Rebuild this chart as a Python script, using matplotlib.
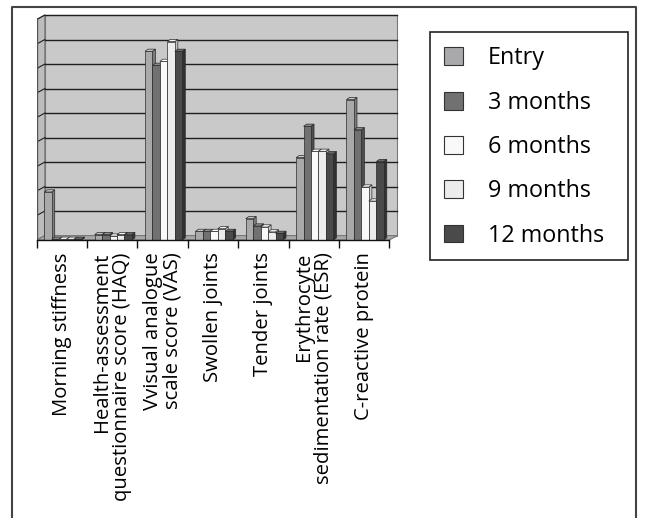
import matplotlib

matplotlib.use("Agg")
import matplotlib.pyplot as plt
from matplotlib.patches import Polygon, Rectangle, Patch
from matplotlib.lines import Line2D

plt.rcParams["font.family"] = ["Open Sans", "DejaVu Sans"]

categories = [
    "Morning stiffness",
    "Health-assessment\nquestionnaire score (HAQ)",
    "Vvisual analogue\nscale score (VAS)",
    "Swollen joints",
    "Tender joints",
    "Erythrocyte\nsedimentation rate (ESR)",
    "C-reactive protein",
]
series = ["Entry", "3 months", "6 months", "9 months", "12 months"]
entry = [1.96, 0.22, 7.70, 0.35, 0.87, 3.36, 5.73]
m3 = [0.03, 0.22, 7.13, 0.35, 0.57, 4.64, 4.50]
m6 = [0.03, 0.16, 7.29, 0.35, 0.53, 3.62, 2.16]
m9 = [0.03, 0.22, 8.10, 0.46, 0.33, 3.62, 1.59]
m12 = [0.03, 0.22, 7.70, 0.35, 0.27, 3.52, 3.20]
values = [entry, m3, m6, m9, m12]

# front / top / side shades per series
FRONT = ["#a9a9ab", "#717171", "#f9f9f9", "#ececec", "#4a4a4a"]
TOP = ["#c4c4c6", "#8c8c8c", "#ffffff", "#f6f6f6", "#686868"]
SIDE = ["#7c7c7e", "#4e4e4e", "#cfcfcf", "#c4c4c4", "#303030"]
WALL = "#c9c9c9"
FLOOR = "#a8a8a8"
EDGE = "#2a2a2a"

N_GRID = 9
WALL_DX, WALL_DY = 0.16, 0.18   # depth of back wall (category units, value units)
BAR_DX, BAR_DY = 0.06, 0.09     # depth of each bar
BAR_OFF, BAR_W = 0.15, 0.148

W, H = 647, 518
fig = plt.figure(figsize=(W / 100, H / 100), dpi=100, facecolor="white")

# px layout of the plotting box
px_cat = 50.37
px_unit = 24.5
x_left, y_floor = 36.7, 240
xmax, ymax = 7.2, 9.4
ax = fig.add_axes([x_left / W, (H - y_floor) / H, xmax * px_cat / W, ymax * px_unit / H])
ax.set_xlim(0, xmax)
ax.set_ylim(0, ymax)
for s in ax.spines.values():
    s.set_visible(False)
ax.set_yticks([])

n_cat = len(categories)

# back wall
ax.add_patch(Rectangle((WALL_DX, WALL_DY), n_cat, N_GRID, facecolor=WALL,
                       edgecolor="#777777", lw=0.8, zorder=1))
# left wall
ax.add_patch(Polygon([(0, 0), (WALL_DX, WALL_DY), (WALL_DX, N_GRID + WALL_DY), (0, N_GRID)],
                     closed=True, facecolor="#bdbdbd", edgecolor="#777777", lw=0.8, zorder=1))
# floor
ax.add_patch(Polygon([(0, 0), (n_cat, 0), (n_cat + WALL_DX, WALL_DY), (WALL_DX, WALL_DY)],
                     closed=True, facecolor=FLOOR, edgecolor="#777777", lw=0.8, zorder=1))
# gridlines on back and left walls
for k in range(1, N_GRID + 1):
    ax.plot([WALL_DX, n_cat + WALL_DX], [k + WALL_DY, k + WALL_DY], color="#1e1e1e",
            lw=1.0, zorder=2)
    ax.plot([0, WALL_DX], [k, k + WALL_DY], color="#1e1e1e", lw=0.8, zorder=2)
# left front edge
ax.plot([0, 0], [0, N_GRID], color="#555555", lw=1.0, zorder=2)

# bars
for j, vals in enumerate(values):
    for i, v in enumerate(vals):
        x0 = i + BAR_OFF + j * BAR_W
        x1 = x0 + BAR_W
        z = 3 + j * 0.01
        ax.add_patch(Polygon([(x1, 0), (x1 + BAR_DX, BAR_DY), (x1 + BAR_DX, v + BAR_DY), (x1, v)],
                             closed=True, facecolor=SIDE[j], edgecolor=EDGE, lw=0.5, zorder=z))
        ax.add_patch(Polygon([(x0, v), (x1, v), (x1 + BAR_DX, v + BAR_DY), (x0 + BAR_DX, v + BAR_DY)],
                             closed=True, facecolor=TOP[j], edgecolor=EDGE, lw=0.5, zorder=z))
        ax.add_patch(Rectangle((x0, 0), BAR_W, v, facecolor=FRONT[j], edgecolor=EDGE,
                               lw=0.5, zorder=z))

# front axis line
ax.plot([0, n_cat], [0, 0], color="#111111", lw=1.0, zorder=5, clip_on=False)

# category ticks at boundaries, labels at centres
ax.set_xticks(range(n_cat + 1))
ax.set_xticklabels([])
ax.tick_params(axis="x", which="major", length=6, width=1.0, color="#111111", direction="out")
ax.set_xticks([i + 0.5 for i in range(n_cat)], minor=True)
ax.set_xticklabels(categories, minor=True, rotation=90, fontsize=14.6, va="top",
                   ha="center", multialignment="right", linespacing=1.0)
ax.tick_params(axis="x", which="minor", length=0, pad=9)

# legend (box drawn separately to match the reference frame)
handles = [Patch(facecolor=FRONT[j], edgecolor="#333333", lw=0.8, label=s)
           for j, s in enumerate(series)]
leg = fig.legend(handles=handles, loc="upper left",
                 bbox_to_anchor=(430 / W, 1 - 32 / H), frameon=False,
                 fontsize=16.8, handlelength=0.8, handleheight=0.8, handletextpad=1.05,
                 labelspacing=0.87, borderpad=0.62, borderaxespad=0)
fig.add_artist(Rectangle((430 / W, 1 - 260 / H), 198 / W, 228 / H, transform=fig.transFigure,
                         fill=False, edgecolor="#222222", lw=1.2))

# outer frame of the figure (open at the bottom)
fig.add_artist(Line2D([12 / W, 12 / W, 636 / W, 636 / W], [0, 1 - 7 / H, 1 - 7 / H, 0],
                      transform=fig.transFigure, color="#444444", lw=1.5))

fig.savefig("out.png", dpi=100, facecolor="white")
